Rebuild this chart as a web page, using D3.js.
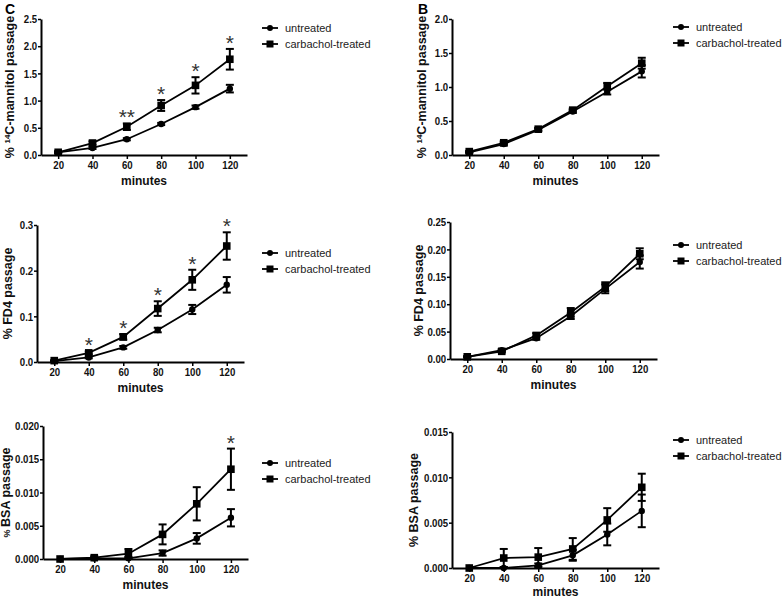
<!DOCTYPE html>
<html><head><meta charset="utf-8">
<script src="https://cdn.jsdelivr.net/npm/d3@7"></script>
<style>body{margin:0;background:#fff}svg{display:block}</style>
</head><body>
<svg id="c" width="784" height="599"></svg>
<script>
const minutes = [20, 40, 60, 80, 100, 120];
const seriesNames = ["untreated", "carbachol-treated"];

// C: 14C-mannitol
const cMannUntr = [0.05, 0.13, 0.29, 0.57, 0.88, 1.22];
const cMannUntrErr = [0.01, 0.02, 0.02, 0.02, 0.03, 0.07];
const cMannCarb = [0.05, 0.22, 0.52, 0.91, 1.28, 1.76];
const cMannCarbErr = [0.02, 0.03, 0.06, 0.10, 0.15, 0.19];
const cMannStars = ["", "", "**", "*", "*", "*"];
// B: 14C-mannitol
const bMannUntr = [0.04, 0.16, 0.37, 0.64, 0.93, 1.23];
const bMannUntrErr = [0.01, 0.02, 0.02, 0.02, 0.04, 0.09];
const bMannCarb = [0.05, 0.18, 0.38, 0.66, 1.01, 1.35];
const bMannCarbErr = [0.01, 0.02, 0.02, 0.02, 0.05, 0.08];
// C: FD4
const cFd4Untr = [0.002, 0.010, 0.032, 0.070, 0.115, 0.169];
const cFd4UntrErr = [0.001, 0.002, 0.003, 0.005, 0.010, 0.017];
const cFd4Carb = [0.003, 0.020, 0.055, 0.117, 0.180, 0.254];
const cFd4CarbErr = [0.001, 0.003, 0.006, 0.016, 0.022, 0.030];
const cFd4Stars = ["", "*", "*", "*", "*", "*"];
// B: FD4
const bFd4Untr = [0.004, 0.016, 0.038, 0.078, 0.128, 0.177];
const bFd4UntrErr = [0.001, 0.002, 0.003, 0.005, 0.008, 0.012];
const bFd4Carb = [0.004, 0.014, 0.043, 0.085, 0.132, 0.192];
const bFd4CarbErr = [0.001, 0.002, 0.004, 0.008, 0.008, 0.010];
// C: BSA
const cBsaUntr = [0.0000, 0.0001, 0.0001, 0.0009, 0.0031, 0.0062];
const cBsaUntrErr = [0.0000, 0.0001, 0.0002, 0.0004, 0.0008, 0.0013];
const cBsaCarb = [0.0000, 0.0002, 0.0008, 0.0037, 0.0083, 0.0135];
const cBsaCarbErr = [0.0000, 0.0002, 0.0007, 0.0015, 0.0025, 0.0031];
const cBsaStars = ["", "", "", "", "", "*"];
// B: BSA
const bBsaUntr = [0.0000, 0.0000, 0.0003, 0.0014, 0.0037, 0.0063];
const bBsaUntrErr = [0.0000, 0.0001, 0.0002, 0.0006, 0.0012, 0.0018];
const bBsaCarb = [0.0000, 0.0011, 0.0012, 0.0021, 0.0053, 0.0089];
const bBsaCarbErr = [0.0000, 0.0010, 0.0010, 0.0012, 0.0013, 0.0015];
const noStars = ["", "", "", "", "", ""];

const panels = [
  {label:"C", title:["% ", "14", "C-mannitol passage"], u:cMannUntr, ue:cMannUntrErr, c:cMannCarb, ce:cMannCarbErr, stars:cMannStars,
   yMax:2.5, step:0.5, fmt:".1f", xr:[41,247], yr:[155,19], lab:[5,14], titleX:10, legX:270, legY:28, smallPct:false},
  {label:"B", title:["% ", "14", "C-mannitol passage"], u:bMannUntr, ue:bMannUntrErr, c:bMannCarb, ce:bMannCarbErr, stars:noStars,
   yMax:2.0, step:0.5, fmt:".1f", xr:[452,659], yr:[155,19], lab:[418,14], titleX:422, legX:681, legY:27, smallPct:false},
  {label:"", title:["% FD4 passage"], u:cFd4Untr, ue:cFd4UntrErr, c:cFd4Carb, ce:cFd4CarbErr, stars:cFd4Stars,
   yMax:0.3, step:0.1, fmt:".1f", xr:[37,244], yr:[362,225], titleX:8, legX:270, legY:253, smallPct:false},
  {label:"", title:["% FD4 passage"], u:bFd4Untr, ue:bFd4UntrErr, c:bFd4Carb, ce:bFd4CarbErr, stars:noStars,
   yMax:0.25, step:0.05, fmt:".2f", xr:[450,657], yr:[359,222], titleX:419, legX:681, legY:245, smallPct:false},
  {label:"", title:["% BSA passage"], u:cBsaUntr, ue:cBsaUntrErr, c:cBsaCarb, ce:cBsaCarbErr, stars:cBsaStars,
   yMax:0.02, step:0.005, fmt:".3f", xr:[43,248], yr:[559,426], titleX:6, legX:270, legY:463, smallPct:true},
  {label:"", title:["% BSA passage"], u:bBsaUntr, ue:bBsaUntrErr, c:bBsaCarb, ce:bBsaCarbErr, stars:noStars,
   yMax:0.015, step:0.005, fmt:".3f", xr:[452,659], yr:[568,432], titleX:414, legX:681, legY:440, smallPct:false}
];

const svg = d3.select("#c");
const sansFont = "'Liberation Sans',Arial,sans-serif";

panels.forEach(p => {
  const g = svg.append("g");
  const x = d3.scaleLinear().domain([10,130]).range(p.xr);
  const y = d3.scaleLinear().domain([0,p.yMax]).range(p.yr);
  const yTicks = d3.range(0, p.yMax + p.step/2, p.step);

  const ya = g.append("g").attr("transform", `translate(${p.xr[0]},0)`)
    .call(d3.axisLeft(y).tickValues(yTicks).tickFormat(d3.format(p.fmt)).tickSize(3).tickSizeOuter(0));
  const xa = g.append("g").attr("transform", `translate(0,${p.yr[0]})`)
    .call(d3.axisBottom(x).tickValues(minutes).tickSize(4).tickSizeOuter(0));
  [ya, xa].forEach(a => {
    a.select(".domain").attr("stroke","#000").attr("stroke-width",2);
    a.selectAll(".tick line").attr("stroke","#000").attr("stroke-width",1.5);
    a.selectAll("text").attr("fill","#111").style("font-family",sansFont)
      .style("font-weight","bold").style("font-size","11.5px");
  });
  ya.selectAll("text").attr("x",-4.5).attr("transform","scale(0.84,1)");
  xa.selectAll("text").attr("y",6).attr("transform","scale(0.84,1)");

  g.append("text").attr("x",x(70)).attr("y",Math.min(p.yr[0]+30, 596))
    .attr("text-anchor","middle").style("font-family",sansFont).style("font-weight","bold")
    .style("font-size","12px").attr("fill","#111").text("minutes");

  const cy = (p.yr[0]+p.yr[1])/2;
  const t = g.append("text").attr("transform",`translate(${p.titleX},${cy}) rotate(-90)`)
    .attr("text-anchor","middle").attr("dy","0.35em").style("font-family",sansFont).style("font-weight","bold")
    .style("font-size","12.5px").attr("fill","#111");
  if (p.title.length === 3) {
    t.append("tspan").text(p.title[0]);
    t.append("tspan").attr("dy",-4).style("font-size","8px").text(p.title[1]);
    t.append("tspan").attr("dy",4).text(p.title[2]);
  } else if (p.smallPct) {
    t.append("tspan").style("font-size","9px").text(p.title[0].slice(0,2));
    t.append("tspan").text(p.title[0].slice(2));
  } else t.text(p.title[0]);

  if (p.label) g.append("text").attr("x",p.lab[0]).attr("y",p.lab[1])
    .style("font-family",sansFont).style("font-weight","bold").style("font-size","14px").text(p.label);

  const line = d3.line().x((d,i)=>x(minutes[i])).y(d=>y(d));
  const series = [{v:p.u,e:p.ue,shape:"circle"},{v:p.c,e:p.ce,shape:"square"}];
  series.forEach(s => {
    g.append("path").datum(s.v).attr("d",line).attr("fill","none").attr("stroke","#000").attr("stroke-width",1.8);
    s.v.forEach((v,i) => {
      const cx = x(minutes[i]);
      const e = s.e[i];
      if (e > 0) {
        const y1 = y(v+e), y2 = y(Math.max(0,v-e));
        g.append("line").attr("x1",cx).attr("x2",cx).attr("y1",y1).attr("y2",y2).attr("stroke","#000").attr("stroke-width",2);
        [y1,y2].forEach(yy => g.append("line").attr("x1",cx-4).attr("x2",cx+4).attr("y1",yy).attr("y2",yy).attr("stroke","#000").attr("stroke-width",2));
      }
      if (s.shape==="circle") g.append("circle").attr("cx",cx).attr("cy",y(v)).attr("r",3.2).attr("fill","#000");
      else g.append("rect").attr("x",cx-3.8).attr("y",y(v)-3.8).attr("width",7.6).attr("height",7.6).attr("fill","#000");
    });
  });

  p.stars.forEach((st,i) => {
    if (!st) return;
    const top = y(p.c[i]+p.ce[i]);
    g.append("text").attr("x",x(minutes[i])).attr("y",top+1).attr("text-anchor","middle")
      .style("font-family",sansFont).style("font-size","21px").attr("fill","#333").text(st);
  });

  seriesNames.forEach((n,k) => {
    const ly = p.legY + k*16;
    g.append("line").attr("x1",p.legX-8).attr("x2",p.legX+8).attr("y1",ly).attr("y2",ly).attr("stroke","#000").attr("stroke-width",1.8);
    if (k===0) g.append("circle").attr("cx",p.legX).attr("cy",ly).attr("r",3).attr("fill","#000");
    else g.append("rect").attr("x",p.legX-3.5).attr("y",ly-3.5).attr("width",7).attr("height",7).attr("fill","#000");
    g.append("text").attr("x",p.legX+15).attr("y",ly).attr("dy","0.35em")
      .style("font-family",sansFont).style("font-size","11px").attr("fill","#222").text(n);
  });
});
</script>
</body></html>
